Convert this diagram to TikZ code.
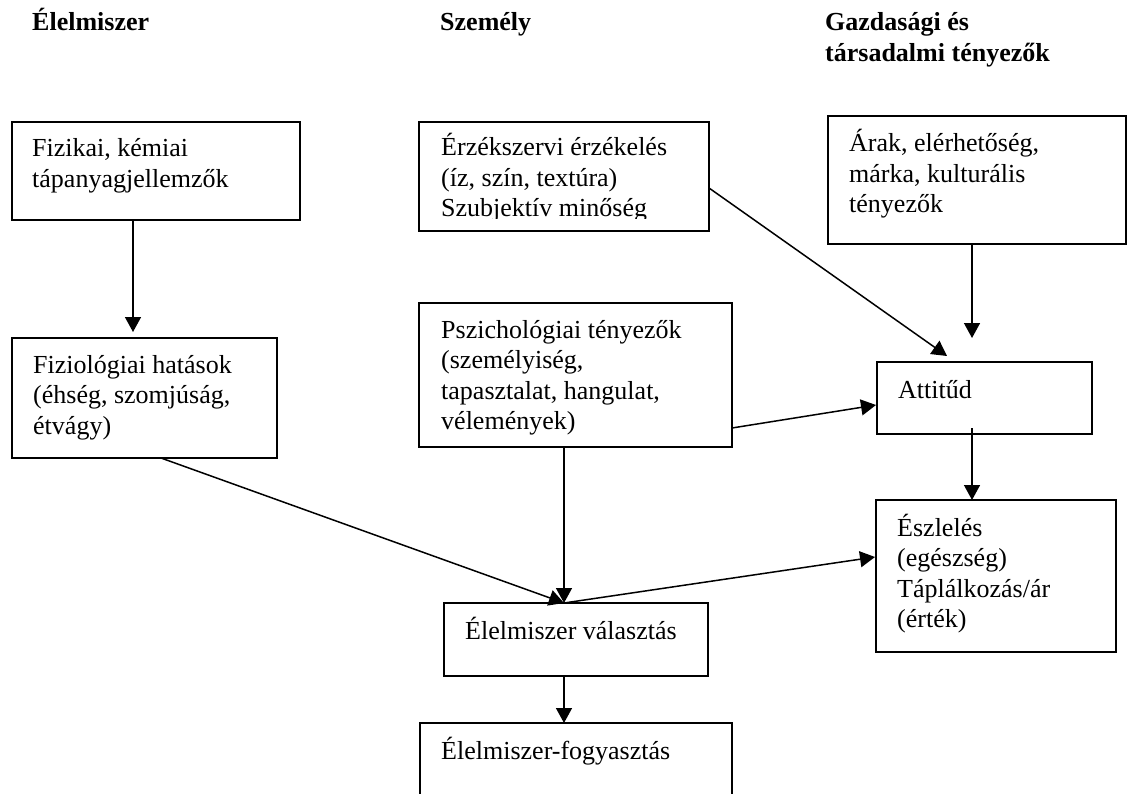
\documentclass[tikz,border=0pt]{standalone}
\usepackage{fontspec}
\setmainfont{Liberation Serif}
\usetikzlibrary{arrows.meta}
% left-aligned block of lines whose baseline is that of its first line
\newcommand\boxlines[1]{\begin{tabular}[t]{@{}l@{}}#1\end{tabular}}
\begin{document}
\begin{tikzpicture}[x=1pt,y=-1pt,
  frame/.style={draw, line width=1.7pt, inner sep=0pt, outer sep=0pt, anchor=north west},
  boxtext/.style={anchor=base west, inner sep=0pt, font=\fontsize{26}{30.5}\selectfont},
  head/.style={anchor=base west, inner sep=0pt, font=\fontsize{26}{31}\selectfont\bfseries},
  link/.style={line width=1.5pt, -{Triangle[length=15pt,width=16pt]}}]
\useasboundingbox (0,0) rectangle (1129,794);

% column headings
\node[head] (h1) at (32,31) {Élelmiszer};
\node[head] (h2) at (440,31) {Személy};
\node[head] (h3) at (825,31) {\boxlines{Gazdasági és\\társadalmi tényezők}};

% frames
\node[frame, minimum width=288pt, minimum height=98pt]  (fiz) at (12,122) {};
\node[frame, minimum width=265pt, minimum height=120pt] (fzl) at (12,338) {};
\node[frame, minimum width=290pt, minimum height=109pt] (erz) at (419,122) {};
\node[frame, minimum width=313pt, minimum height=144pt] (psz) at (419,303) {};
\node[frame, minimum width=298pt, minimum height=128pt] (ara) at (828,116) {};
\node[frame, minimum width=215pt, minimum height=72pt]  (att) at (877,362) {};
\node[frame, minimum width=240pt, minimum height=152pt] (esz) at (876,500) {};
\node[frame, minimum width=264pt, minimum height=73pt]  (val) at (444,603) {};
\node[frame, minimum width=312pt, minimum height=100pt] (fog) at (420,723) {};

% texts
\node[boxtext] (fiz-t) at (32,157) {\boxlines{Fizikai, kémiai\\tápanyagjellemzők}};
\node[boxtext] (fzl-t) at (33,373) {\boxlines{Fiziológiai hatások\\(éhség, szomjúság,\\étvágy)}};
\begin{scope}
  % the last line runs past the inner edge of its frame and is cut there
  \clip (erz.north west) rectangle ([yshift=12pt]erz.south east);
  \node[boxtext] (erz-t) at (441,156) {\boxlines{Érzékszervi érzékelés\\(íz, szín, textúra)\\Szubjektív minőség}};
\end{scope}
\node[boxtext] (psz-t) at (441,338) {\boxlines{Pszichológiai tényezők\\(személyiség,\\tapasztalat, hangulat,\\vélemények)}};
\node[boxtext] (ara-t) at (849,152) {\boxlines{Árak, elérhetőség,\\márka, kulturális\\tényezők}};
\node[boxtext] (att-t) at (898,398) {Attitűd};
\node[boxtext] (esz-t) at (897,536) {\boxlines{Észlelés\\(egészség)\\Táplálkozás/ár\\(érték)}};
\node[boxtext] (val-t) at (465,639) {Élelmiszer választás};
\node[boxtext] (fog-t) at (441,759) {Élelmiszer-fogyasztás};

% connectors
\draw[link] ([xshift=121pt]fiz.south west) -- ([xshift=121pt,yshift=6pt]fzl.north west);
\draw[link] ([yshift=-66pt]erz.north east) -- ([xshift=70pt,yshift=6pt]att.north west);
\draw[link] ([xshift=144pt]ara.south west) -- ([xshift=95pt,yshift=24pt]att.north west);
\draw[link] ([yshift=19pt]psz.south east) -- ([xshift=-1pt,yshift=29pt]att.south west);
\draw[link] ([xshift=95pt,yshift=6pt]att.south west) -- ([xshift=96pt]esz.north west);
\draw[link] ([xshift=145pt]psz.south west) -- ([xshift=120pt]val.north west);
\draw[link] ([xshift=149pt]fzl.south west) -- ([xshift=120pt]val.north west);
\draw[link] ([xshift=120pt]val.north west) -- ([xshift=-1pt,yshift=-57pt]esz.north west);
\draw[link] ([xshift=120pt]val.south west) -- ([xshift=144pt]fog.north west);
\end{tikzpicture}
\end{document}
